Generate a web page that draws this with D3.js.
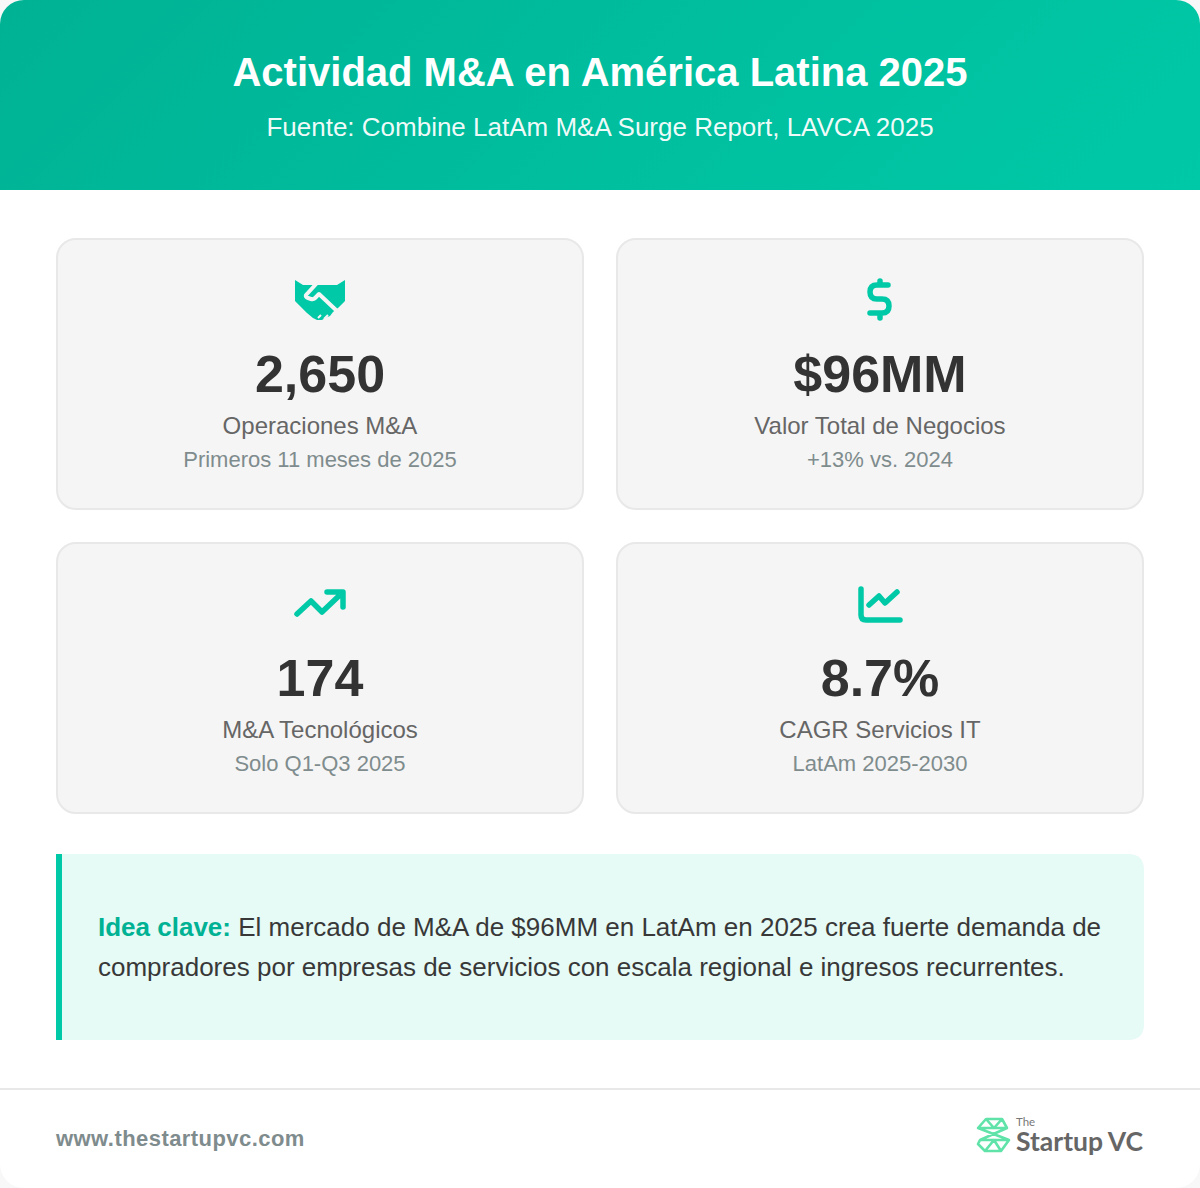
<!DOCTYPE html>
<html>
<head>
<meta charset="utf-8">
<script src="https://cdn.jsdelivr.net/npm/d3@7"></script>
<style>
html, body { margin: 0; padding: 0; background: #fff; }
svg { display: block; font-family: "Liberation Sans", Arial, sans-serif; }
</style>
</head>
<body>
<div id="grafico"></div>
<script>
const titulo = "Actividad M&A en América Latina 2025";
const fuente = "Fuente: Combine LatAm M&A Surge Report, LAVCA 2025";
const valores = ["2,650", "$96MM", "174", "8.7%"];
const etiquetas = ["Operaciones M&A", "Valor Total de Negocios", "M&A Tecnológicos", "CAGR Servicios IT"];
const notas = ["Primeros 11 meses de 2025", "+13% vs. 2024", "Solo Q1-Q3 2025", "LatAm 2025-2030"];
const iconos = ["handshake", "dolar", "tendencia", "lineas"];
const ideaTitulo = "Idea clave:";
const ideaLineas = [
    " El mercado de M&A de $96MM en LatAm en 2025 crea fuerte demanda de",
    "compradores por empresas de servicios con escala regional e ingresos recurrentes."
];
const sitio = "www.thestartupvc.com";

const verde = "#00c9a7";
const W = 1200, H = 1188;

const svg = d3.select("#grafico").append("svg")
    .attr("width", W)
    .attr("height", H);

const defs = svg.append("defs");
const grad = defs.append("linearGradient")
    .attr("id", "cabecera")
    .attr("gradientUnits", "userSpaceOnUse")
    .attr("x1", 252.5).attr("y1", -252.5)
    .attr("x2", 947.5).attr("y2", 442.5);
grad.append("stop").attr("offset", "0%").attr("stop-color", "#00b294");
grad.append("stop").attr("offset", "100%").attr("stop-color", "#00c9a7");

// fondo redondeado de la tarjeta completa
defs.append("clipPath").attr("id", "marco")
    .append("rect").attr("width", W).attr("height", H).attr("rx", 24);

svg.append("rect").attr("width", W).attr("height", H).attr("fill", "#f8f8f8");
const raiz = svg.append("g").attr("clip-path", "url(#marco)");
raiz.append("rect").attr("width", W).attr("height", H).attr("fill", "#fff");

// cabecera
raiz.append("rect").attr("width", W).attr("height", 190).attr("fill", "url(#cabecera)");
raiz.append("text")
    .text(titulo)
    .attr("x", 600).attr("y", 86)
    .attr("text-anchor", "middle")
    .attr("font-size", 40).attr("font-weight", 700)
    .attr("fill", "#fff");
raiz.append("text")
    .text(fuente)
    .attr("x", 600).attr("y", 136)
    .attr("text-anchor", "middle")
    .attr("font-size", 26)
    .attr("fill", "#fff").attr("fill-opacity", 0.95);

// tarjetas en rejilla
const xCol = d3.scaleBand().domain([0, 1]).range([56, 1144]).paddingInner(32 / 560);
const yFila = d3.scaleBand().domain([0, 1]).range([238, 814]).paddingInner(32 / 304);

const dibujos = {
    handshake(g) {
        g.append("path")
            .attr("d", "M-25,-20 L-17,-15 L17,-15 L25,-20 L25,1 L18,8 L13,12 L10,16 L5,18 L2,20 L-3,20 L-7,18 L-13,13 L-25,1 Z")
            .attr("fill", verde);
        g.append("path")
            .attr("d", "M-3,-17 L-14,-5 Q-15,-3 -12,-2 L-9,-1 Q-6,0 -3,-4 L-1,-6 L17,11")
            .attr("fill", "none").attr("stroke", "#f5f5f5").attr("stroke-width", 4).attr("stroke-linejoin", "round");
        g.append("path")
            .attr("d", "M4,19 L8,15 M-2,18 L1,15")
            .attr("fill", "none").attr("stroke", "#f5f5f5").attr("stroke-width", 2);
    },
    dolar(g) {
        g.append("path")
            .attr("d", "M8,-15 L-3,-15 Q-10,-15 -10,-8 Q-10,-1 -3,-1 L2,-1 Q9,-1 9,6 Q9,13 2,13 L-10,13 M0,-19 L0,-15 M0,13 L0,18")
            .attr("fill", "none").attr("stroke", verde)
            .attr("stroke-width", 5.5).attr("stroke-linecap", "round").attr("stroke-linejoin", "round");
    },
    tendencia(g) {
        g.append("path")
            .attr("d", "M-23,10 L-9,-3 L2,8 L22,-11 M7,-12 L23,-12 L23,3")
            .attr("fill", "none").attr("stroke", verde)
            .attr("stroke-width", 5.5).attr("stroke-linecap", "round").attr("stroke-linejoin", "round");
    },
    lineas(g) {
        g.append("path")
            .attr("d", "M-19,-15 L-19,11 Q-19,16 -14,16 L20,16")
            .attr("fill", "none").attr("stroke", verde)
            .attr("stroke-width", 5.5).attr("stroke-linecap", "round");
        g.append("path")
            .attr("d", "M-11,1 L-1,-8 L5,-1 L17,-12")
            .attr("fill", "none").attr("stroke", verde)
            .attr("stroke-width", 5.5).attr("stroke-linecap", "round").attr("stroke-linejoin", "round");
    }
};

const tarjetas = raiz.selectAll("g.tarjeta")
    .data(valores.map((v, i) => ({ valor: v, etiqueta: etiquetas[i], nota: notas[i], icono: iconos[i], col: i % 2, fila: Math.floor(i / 2) })))
    .join("g")
    .attr("class", "tarjeta")
    .attr("transform", d => `translate(${xCol(d.col)},${yFila(d.fila)})`);

tarjetas.append("rect")
    .attr("x", 1).attr("y", 1)
    .attr("width", xCol.bandwidth() - 2)
    .attr("height", yFila.bandwidth() - 2)
    .attr("rx", 19)
    .attr("fill", "#f5f5f5")
    .attr("stroke", "#e8e8e8")
    .attr("stroke-width", 2);

tarjetas.each(function (d) {
    const g = d3.select(this).append("g")
        .attr("transform", `translate(${xCol.bandwidth() / 2},62)`);
    dibujos[d.icono](g);
});

tarjetas.append("text")
    .text(d => d.valor)
    .attr("x", xCol.bandwidth() / 2).attr("y", 154)
    .attr("text-anchor", "middle")
    .attr("font-size", 52).attr("font-weight", 700)
    .attr("fill", "#333");
tarjetas.append("text")
    .text(d => d.etiqueta)
    .attr("x", xCol.bandwidth() / 2).attr("y", 196)
    .attr("text-anchor", "middle")
    .attr("font-size", 24)
    .attr("fill", "#666");
tarjetas.append("text")
    .text(d => d.nota)
    .attr("x", xCol.bandwidth() / 2).attr("y", 229)
    .attr("text-anchor", "middle")
    .attr("font-size", 22)
    .attr("fill", "#7f8c8d");

// recuadro de idea clave
raiz.append("path")
    .attr("d", "M56,854 H1128 Q1144,854 1144,870 V1024 Q1144,1040 1128,1040 H56 Z")
    .attr("fill", "#e6faf6");
raiz.append("rect")
    .attr("x", 56).attr("y", 854).attr("width", 6).attr("height", 186)
    .attr("fill", verde);

const linea1 = raiz.append("text")
    .attr("x", 98).attr("y", 936)
    .attr("font-size", 26)
    .attr("fill", "#383838")
    .attr("xml:space", "preserve");
linea1.append("tspan").text(ideaTitulo).attr("font-weight", 700).attr("fill", "#00b294");
linea1.append("tspan").text(ideaLineas[0]);
raiz.append("text")
    .text(ideaLineas[1])
    .attr("x", 98).attr("y", 976)
    .attr("font-size", 26)
    .attr("fill", "#383838");

// pie
raiz.append("line")
    .attr("x1", 0).attr("x2", W)
    .attr("y1", 1089).attr("y2", 1089)
    .attr("stroke", "#e8e8e8").attr("stroke-width", 2);
raiz.append("text")
    .text(sitio)
    .attr("x", 56).attr("y", 1146)
    .attr("font-size", 22).attr("font-weight", 700)
    .attr("letter-spacing", 0.44)
    .attr("fill", "#7f8c8d");

// logo
const logo = raiz.append("g").attr("transform", "translate(993,1135)");
logo.append("path")
    .attr("d", "M-7,-16 L9,-16 L14,-7 L-15,-7 Z M-7,-16 L1,-7 L9,-16 M-13,5 L16,5 L8,16 L-8,16 L-15,9 Z M-8,16 L1,5 L8,16 M-15,-7 L16,5 M14,-7 L-13,5")
    .attr("fill", "none")
    .attr("stroke", "#5fe3a8")
    .attr("stroke-width", 2.6)
    .attr("stroke-linejoin", "round");
raiz.append("text")
    .text("The")
    .attr("x", 1016).attr("y", 1126)
    .attr("font-family", "Lato")
    .attr("font-size", 11.5)
    .attr("fill", "#777");
raiz.append("text")
    .text("Startup")
    .attr("x", 1016).attr("y", 1151)
    .attr("font-family", "Lato")
    .attr("font-size", 26.5).attr("font-weight", 700)
    .attr("fill", "#666");
raiz.append("text")
    .text("VC")
    .attr("x", 1143).attr("y", 1151)
    .attr("text-anchor", "end")
    .attr("font-family", "Lato")
    .attr("font-size", 26.5).attr("font-weight", 700)
    .attr("fill", "#666");
</script>
</body>
</html>
